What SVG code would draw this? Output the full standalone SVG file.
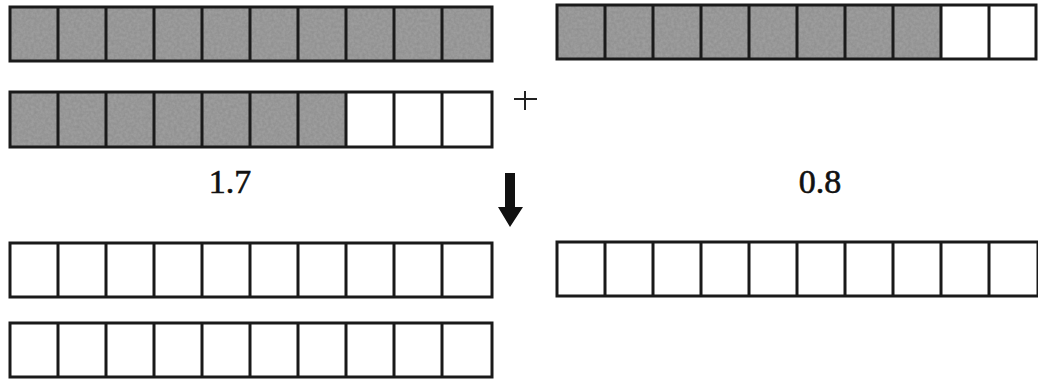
<svg xmlns="http://www.w3.org/2000/svg" width="1038" height="380" viewBox="0 0 1038 380">
<style>
.frame{fill:none;stroke:#1a1a1a;stroke-width:3}
.sep{stroke:#1a1a1a;stroke-width:3}
.shade{fill:#a2a2a2;filter:url(#grain)}
.lbl{font-family:"Liberation Serif","Times New Roman",serif;font-size:34px;fill:#111;stroke:#111;stroke-width:0.6;text-anchor:middle}
</style>
<defs>
<filter id="grain" x="0" y="0" width="100%" height="100%">
<feTurbulence type="fractalNoise" baseFrequency="0.35" numOctaves="2" seed="3" result="n"/>
<feColorMatrix in="n" type="matrix" values="0 0 0 0 0.5  0 0 0 0 0.5  0 0 0 0 0.5  0 0 0 0.55 0" result="g"/>
<feComposite in="g" in2="SourceGraphic" operator="in" result="gc"/>
<feBlend in="SourceGraphic" in2="gc" mode="multiply"/>
</filter>
</defs>

<g id="bar-top-left">
<rect class="shade" x="11" y="8" width="480" height="52"/>
<rect class="frame" x="10" y="7" width="482" height="54"/>
<path class="sep" d="M58 7V61M106 7V61M154 7V61M202 7V61M250 7V61M298 7V61M346 7V61M394 7V61M442 7V61"/>
</g>

<g id="bar-second-left">
<rect class="shade" x="11" y="93" width="335" height="53"/>
<rect class="frame" x="10" y="92" width="482" height="55"/>
<path class="sep" d="M58 92V147M106 92V147M154 92V147M202 92V147M250 92V147M298 92V147M346 92V147M394 92V147M442 92V147"/>
</g>

<g id="bar-top-right">
<rect class="shade" x="558" y="6" width="382" height="52"/>
<rect class="frame" x="557" y="5" width="479" height="54"/>
<path class="sep" d="M605 5V59M653 5V59M701 5V59M749 5V59M797 5V59M845 5V59M893 5V59M941 5V59M989 5V59"/>
</g>

<g id="plus">
<path d="M514 99H537M525 91V110" stroke="#222" stroke-width="2" fill="none"/>
</g>

<g id="label-1-7"><text class="lbl" x="230" y="193">1.7</text></g>
<g id="label-0-8"><text class="lbl" x="820" y="193">0.8</text></g>

<g id="connectors">
<path d="M505 173H515V207H523L510 227L498 207H505Z" fill="#111"/>
</g>

<g id="bar-bottom-left-1">
<rect class="frame" x="10" y="243" width="482" height="54"/>
<path class="sep" d="M58 243V297M106 243V297M154 243V297M202 243V297M250 243V297M298 243V297M346 243V297M394 243V297M442 243V297"/>
</g>

<g id="bar-bottom-left-2">
<rect class="frame" x="10" y="323" width="482" height="54"/>
<path class="sep" d="M58 323V377M106 323V377M154 323V377M202 323V377M250 323V377M298 323V377M346 323V377M394 323V377M442 323V377"/>
</g>

<g id="bar-bottom-right">
<rect class="frame" x="557" y="242" width="481" height="54"/>
<path class="sep" d="M605 242V296M653 242V296M701 242V296M749 242V296M797 242V296M845 242V296M893 242V296M941 242V296M989 242V296"/>
</g>
</svg>
